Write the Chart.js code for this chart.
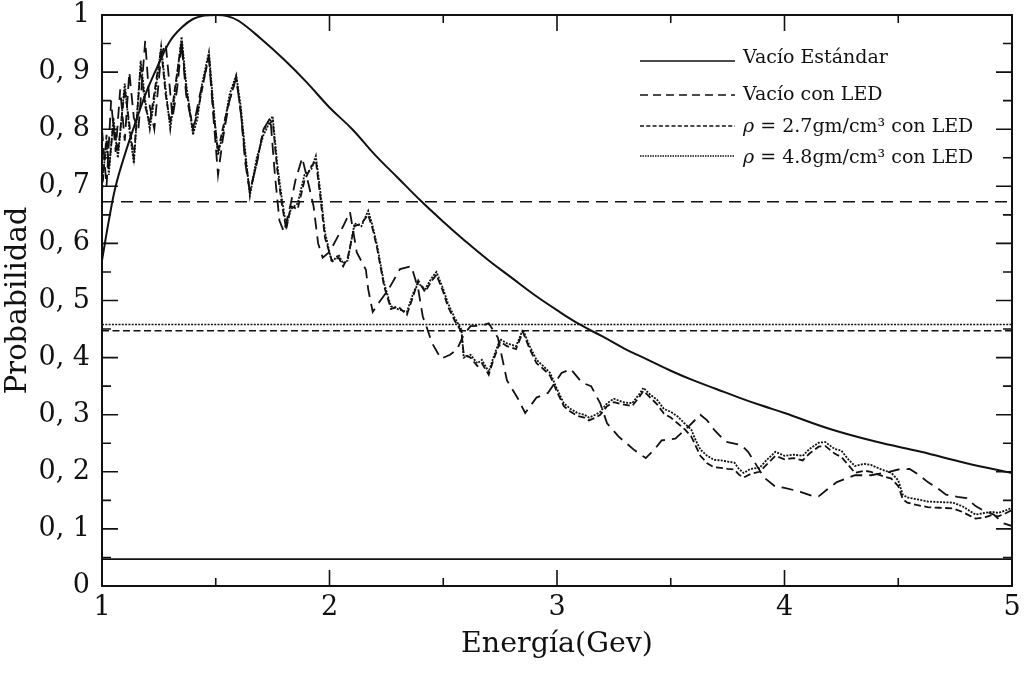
<!DOCTYPE html>
<html>
<head>
  <title>Probabilidad vs Energía</title>
  <script src="https://cdn.jsdelivr.net/npm/chart.js@4.4.1/dist/chart.umd.min.js"></script>
  <style>
    body { margin: 0; background: #fff; }
  </style>
</head>
<body>
  <canvas id="grafico" width="1025" height="673"></canvas>
  <script>
    // --- datos ---
    const nombres = ['Vacío Estándar', 'Vacío con LED', 'ρ = 2.7gm/cm³ con LED', 'ρ = 4.8gm/cm³ con LED'];

    // Vacío Estándar (curva suave)
    const energiaStd = [1.00, 1.03, 1.06, 1.10, 1.15, 1.20, 1.25, 1.30, 1.35, 1.40, 1.45, 1.50, 1.55, 1.60, 1.70, 1.80, 1.90,
      2.00, 2.10, 2.20, 2.30, 2.40, 2.50, 2.60, 2.70, 2.80, 2.90, 3.00, 3.10, 3.20, 3.30, 3.40, 3.50, 3.60, 3.70, 3.80, 3.90,
      4.00, 4.20, 4.40, 4.60, 4.80, 5.00];
    const probStd = [0.57, 0.64, 0.70, 0.755, 0.815, 0.87, 0.915, 0.955, 0.978, 0.993, 0.999, 1.0, 0.998, 0.99, 0.958, 0.922, 0.882,
      0.838, 0.80, 0.755, 0.715, 0.675, 0.638, 0.603, 0.57, 0.54, 0.51, 0.483, 0.458, 0.437, 0.415, 0.396, 0.377, 0.36, 0.345, 0.33, 0.316,
      0.303, 0.275, 0.253, 0.235, 0.215, 0.198];

    // Vacío con LED (trazo largo)
    const energiaLED = [1.00, 1.02, 1.04, 1.06, 1.08, 1.10, 1.12, 1.14, 1.16, 1.19,
      1.21, 1.23, 1.26, 1.28, 1.31, 1.33, 1.35, 1.37, 1.40, 1.43,
      1.47, 1.49, 1.51, 1.53, 1.56, 1.59, 1.61, 1.63, 1.65, 1.68,
      1.71, 1.74, 1.76, 1.78, 1.80, 1.83, 1.85, 1.88, 1.91, 1.93,
      1.95, 1.97, 2.00, 2.03, 2.06, 2.09, 2.12, 2.16, 2.17, 2.19,
      2.22, 2.26, 2.31, 2.36, 2.39, 2.41, 2.43, 2.45, 2.49, 2.53,
      2.56, 2.59, 2.62, 2.67, 2.70, 2.74, 2.78, 2.83, 2.86, 2.91,
      2.96, 3.02, 3.06, 3.11, 3.15, 3.19, 3.22, 3.27, 3.34, 3.39,
      3.43, 3.46, 3.52, 3.58, 3.63, 3.66, 3.69, 3.74, 3.81, 3.84,
      3.87, 3.91, 3.96, 4.00, 4.07, 4.12, 4.15, 4.19, 4.23, 4.31,
      4.38, 4.46, 4.50, 4.55, 4.59, 4.63, 4.67, 4.71, 4.76, 4.80,
      4.84, 4.87, 4.92, 4.96, 5.00];
    const probLED = [0.80, 0.70, 0.85, 0.76, 0.87, 0.78, 0.90, 0.82, 0.80, 0.955,
      0.84, 0.80, 0.93, 0.95, 0.82, 0.87, 0.95, 0.86, 0.80, 0.86,
      0.925, 0.82, 0.72, 0.78, 0.85, 0.89, 0.83, 0.74, 0.69, 0.74,
      0.80, 0.82, 0.72, 0.64, 0.62, 0.67, 0.71, 0.75, 0.70, 0.665,
      0.60, 0.575, 0.585, 0.607, 0.63, 0.655, 0.584, 0.554, 0.52, 0.48,
      0.498, 0.52, 0.555, 0.56, 0.52, 0.472, 0.45, 0.426, 0.398, 0.405,
      0.414, 0.44, 0.455, 0.456, 0.46, 0.435, 0.36, 0.327, 0.303, 0.33,
      0.338, 0.373, 0.38, 0.356, 0.35, 0.32, 0.285, 0.262, 0.238, 0.224,
      0.24, 0.255, 0.258, 0.28, 0.30, 0.29, 0.274, 0.253, 0.247, 0.235,
      0.216, 0.19, 0.174, 0.172, 0.165, 0.158, 0.157, 0.17, 0.182, 0.194,
      0.194, 0.20, 0.204, 0.205, 0.195, 0.182, 0.172, 0.16, 0.156, 0.154,
      0.14, 0.133, 0.125, 0.11, 0.105];

    // rho = 2.7 y rho = 4.8 (misma malla de energia)
    const energiaRho = [1.00, 1.02, 1.03, 1.05, 1.07, 1.10, 1.12, 1.14, 1.17, 1.19,
      1.21, 1.24, 1.26, 1.28, 1.30, 1.32, 1.35, 1.37, 1.40, 1.42,
      1.44, 1.47, 1.49, 1.51, 1.53, 1.56, 1.59, 1.61, 1.63, 1.65,
      1.68, 1.71, 1.75, 1.77, 1.79, 1.81, 1.83, 1.86, 1.89, 1.92,
      1.94, 1.96, 1.98, 2.01, 2.04, 2.06, 2.08, 2.11, 2.14, 2.17,
      2.19, 2.21, 2.24, 2.27, 2.30, 2.34, 2.37, 2.39, 2.42, 2.45,
      2.47, 2.50, 2.52, 2.55, 2.58, 2.59, 2.62, 2.65, 2.67, 2.70,
      2.72, 2.75, 2.78, 2.82, 2.85, 2.88, 2.91, 2.94, 2.97, 3.00,
      3.03, 3.06, 3.09, 3.12, 3.14, 3.17, 3.19, 3.22, 3.25, 3.29,
      3.33, 3.36, 3.38, 3.41, 3.44, 3.47, 3.50, 3.53, 3.56, 3.59,
      3.61, 3.63, 3.66, 3.69, 3.72, 3.75, 3.78, 3.80, 3.82, 3.85,
      3.89, 3.92, 3.96, 4.00, 4.04, 4.08, 4.11, 4.15, 4.18, 4.22,
      4.25, 4.28, 4.31, 4.35, 4.38, 4.42, 4.47, 4.50, 4.52, 4.54,
      4.58, 4.63, 4.68, 4.74, 4.78, 4.82, 4.84, 4.88, 4.91, 4.94,
      4.97, 5.00];
    const probRho27 = [0.69, 0.79, 0.73, 0.81, 0.76, 0.87, 0.81, 0.75, 0.91, 0.84,
      0.81, 0.89, 0.94, 0.86, 0.81, 0.87, 0.955, 0.87, 0.80, 0.83,
      0.87, 0.93, 0.83, 0.76, 0.80, 0.85, 0.89, 0.83, 0.75, 0.69,
      0.74, 0.80, 0.815, 0.73, 0.67, 0.625, 0.665, 0.66, 0.71, 0.735,
      0.745, 0.68, 0.61, 0.57, 0.575, 0.56, 0.575, 0.63, 0.635, 0.65,
      0.625, 0.59, 0.525, 0.485, 0.49, 0.475, 0.51, 0.535, 0.515, 0.535,
      0.545, 0.515, 0.49, 0.465, 0.445, 0.405, 0.40, 0.385, 0.39, 0.37,
      0.395, 0.428, 0.42, 0.415, 0.445, 0.415, 0.39, 0.38, 0.368, 0.34,
      0.315, 0.305, 0.298, 0.295, 0.29, 0.295, 0.30, 0.315, 0.322, 0.318,
      0.315, 0.33, 0.342, 0.33, 0.318, 0.302, 0.295, 0.285, 0.275, 0.262,
      0.245, 0.228, 0.215, 0.208, 0.207, 0.205, 0.204, 0.195, 0.19, 0.196,
      0.20, 0.212, 0.228, 0.222, 0.224, 0.22, 0.232, 0.244, 0.245, 0.232,
      0.226, 0.212, 0.198, 0.202, 0.20, 0.194, 0.188, 0.175, 0.152, 0.146,
      0.142, 0.138, 0.137, 0.136, 0.13, 0.122, 0.118, 0.12, 0.124, 0.122,
      0.127, 0.133];
    const probRho48 = [0.70, 0.78, 0.72, 0.82, 0.75, 0.88, 0.80, 0.74, 0.92, 0.85,
      0.80, 0.88, 0.945, 0.87, 0.80, 0.86, 0.962, 0.88, 0.79, 0.82,
      0.88, 0.935, 0.84, 0.755, 0.79, 0.86, 0.895, 0.84, 0.76, 0.683,
      0.75, 0.79, 0.823, 0.74, 0.68, 0.63, 0.66, 0.67, 0.72, 0.73,
      0.753, 0.69, 0.62, 0.567, 0.58, 0.565, 0.57, 0.635, 0.63, 0.657,
      0.63, 0.595, 0.53, 0.49, 0.485, 0.48, 0.515, 0.53, 0.52, 0.54,
      0.55, 0.52, 0.496, 0.47, 0.449, 0.40, 0.405, 0.39, 0.396, 0.375,
      0.40, 0.432, 0.425, 0.42, 0.449, 0.42, 0.396, 0.385, 0.373, 0.345,
      0.32, 0.31, 0.303, 0.30, 0.295, 0.30, 0.305, 0.32, 0.328, 0.322,
      0.32, 0.335, 0.347, 0.335, 0.326, 0.31, 0.305, 0.297, 0.285, 0.274,
      0.255, 0.239, 0.228, 0.221, 0.22, 0.218, 0.216, 0.205, 0.198, 0.205,
      0.207, 0.22, 0.235, 0.228, 0.23, 0.228, 0.24, 0.251, 0.252, 0.24,
      0.237, 0.222, 0.21, 0.214, 0.212, 0.205, 0.198, 0.185, 0.16, 0.155,
      0.152, 0.148, 0.147, 0.146, 0.14, 0.13, 0.125, 0.128, 0.13, 0.128,
      0.132, 0.137];

    // lineas horizontales que cruzan todo el grafico (una por curva)
    const nivelesHorizontales = [0.047, 0.673, 0.447, 0.458];

    // ejes
    const ticksX = [1, 2, 3, 4, 5];
    const etiquetasY = ['0', '0, 1', '0, 2', '0, 3', '0, 4', '0, 5', '0, 6', '0, 7', '0, 8', '0, 9', '1'];

    // --- estilos ---
    const tinta = '#111';
    const trazos = [[], [12, 7], [7, 3.5], [2, 1.3]];
    const trazosLeyenda = [[], [8, 5], [4, 2.3], [1.5, 1]];
    const grosores = [2, 1.8, 1.8, 1.8];
    const fuente = '"DejaVu Serif", "Liberation Serif", serif';

    const puntos = (xs, ys) => xs.map((x, i) => ({ x: x, y: ys[i] }));

    const curvas = [
      puntos(energiaStd, probStd),
      puntos(energiaLED, probLED),
      puntos(energiaRho, probRho27),
      puntos(energiaRho, probRho48)
    ];

    const datasets = curvas.map((d, i) => ({
      label: nombres[i],
      data: d,
      borderColor: tinta,
      borderWidth: grosores[i],
      borderDash: trazos[i],
      pointRadius: 0,
      tension: i === 0 ? 0.4 : 0,
      fill: false
    }));

    nivelesHorizontales.forEach((v, i) => {
      datasets.push({
        label: '',
        data: [{ x: 1, y: v }, { x: 5, y: v }],
        borderColor: tinta,
        borderWidth: 1.6,
        borderDash: trazos[i],
        pointRadius: 0,
        fill: false
      });
    });

    // marco y marcas de division hacia adentro en los cuatro lados
    const marco = {
      id: 'marco',
      afterDatasetsDraw(chart) {
        const { ctx, chartArea: a, scales: { x, y } } = chart;
        ctx.save();
        ctx.strokeStyle = tinta;
        ctx.lineWidth = 1.6;
        ctx.setLineDash([]);
        ctx.beginPath();
        for (let v = 1; v <= 5.001; v += 0.5) {
          const p = x.getPixelForValue(v);
          const largo = Math.abs(v - Math.round(v)) < 0.01 ? 16 : 8;
          ctx.moveTo(p, a.bottom); ctx.lineTo(p, a.bottom - largo);
          ctx.moveTo(p, a.top); ctx.lineTo(p, a.top + largo);
        }
        for (let k = 0; k <= 20; k++) {
          const p = y.getPixelForValue(k * 0.05);
          const largo = k % 2 === 0 ? 16 : 9;
          ctx.moveTo(a.left, p); ctx.lineTo(a.left + largo, p);
          ctx.moveTo(a.right, p); ctx.lineTo(a.right - largo, p);
        }
        ctx.stroke();
        ctx.lineWidth = 2;
        ctx.strokeRect(a.left, a.top, a.right - a.left, a.bottom - a.top);
        ctx.restore();
      }
    };

    // leyenda dentro del area, arriba a la derecha
    const leyenda = {
      id: 'leyenda',
      afterDraw(chart) {
        const { ctx, chartArea: a } = chart;
        const x0 = a.right - 372, x1 = a.right - 277, xt = a.right - 269;
        const yLinea = [46, 80, 111, 141];
        const yTexto = [48, 85, 117, 148];
        ctx.save();
        ctx.strokeStyle = tinta;
        ctx.fillStyle = tinta;
        ctx.textBaseline = 'alphabetic';
        nombres.forEach((n, i) => {
          const yl = a.top + yLinea[i];
          ctx.lineWidth = 1.3;
          ctx.setLineDash(trazosLeyenda[i]);
          ctx.beginPath();
          ctx.moveTo(x0, yl);
          ctx.lineTo(x1, yl);
          ctx.stroke();
          const yb = a.top + yTexto[i];
          let x = xt;
          let resto = n;
          if (n.startsWith('ρ')) {
            ctx.font = 'italic 19px ' + fuente;
            ctx.fillText('ρ', x, yb);
            x += ctx.measureText('ρ').width;
            resto = n.slice(1);
          }
          ctx.font = '19px ' + fuente;
          ctx.fillText(resto, x, yb);
        });
        ctx.restore();
      }
    };

    new Chart(document.getElementById('grafico'), {
      type: 'line',
      data: { datasets: datasets },
      options: {
        responsive: false,
        animation: false,
        devicePixelRatio: 1,
        layout: { padding: { top: 15, right: 13, left: 0, bottom: 0 } },
        plugins: {
          legend: { display: false },
          tooltip: { enabled: false }
        },
        scales: {
          x: {
            type: 'linear',
            min: 1,
            max: 5,
            afterFit(s) { s.height = 87; s.paddingLeft = 0; s.paddingRight = 0; },
            afterBuildTicks(s) { s.ticks = ticksX.map(v => ({ value: v })); },
            grid: { display: false, drawTicks: false },
            border: { display: false },
            ticks: {
              color: tinta,
              padding: 6,
              font: { family: fuente, size: 27 },
              maxRotation: 0,
              callback: v => String(v)
            },
            title: {
              display: true,
              text: 'Energía(Gev)',
              color: tinta,
              font: { family: fuente, size: 28.5 },
              padding: { top: 0, bottom: 11 }
            }
          },
          y: {
            type: 'linear',
            min: 0,
            max: 1,
            afterFit(s) { s.width = 102; s.paddingTop = 0; s.paddingBottom = 0; },
            afterBuildTicks(s) { s.ticks = etiquetasY.map((t, i) => ({ value: i / 10 })); },
            grid: { display: false, drawTicks: false },
            border: { display: false },
            ticks: {
              color: tinta,
              padding: 12,
              font: { family: fuente, size: 27 },
              callback: (v, i) => etiquetasY[i]
            },
            title: {
              display: true,
              text: 'Probabilidad',
              color: tinta,
              font: { family: fuente, size: 29 },
              padding: { top: 1, bottom: 0 }
            }
          }
        }
      },
      plugins: [marco, leyenda]
    });
  </script>
</body>
</html>
